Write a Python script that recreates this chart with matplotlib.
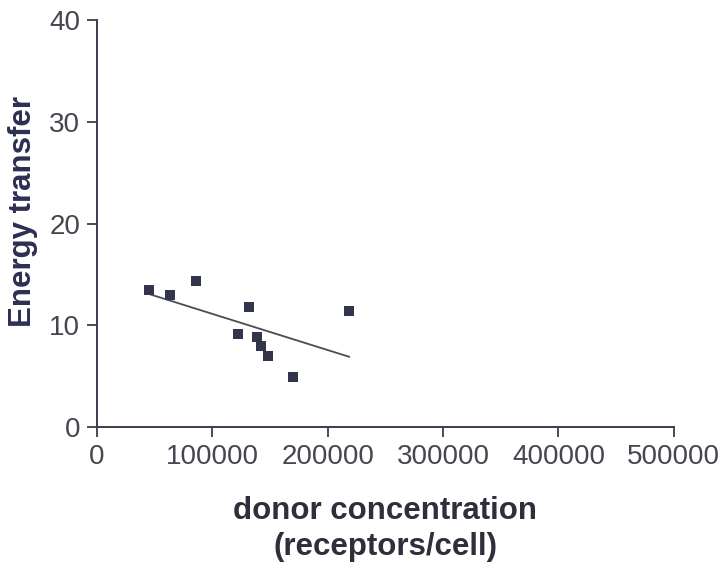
import numpy as np
import matplotlib
matplotlib.use("Agg")
import matplotlib.pyplot as plt

# Donor concentration (receptors/cell) and measured energy transfer (%)
donor_conc = [45300, 63300, 85800, 131500, 218600, 122400, 138400, 141900, 148200, 169800]
energy_transfer = [13.46, 12.97, 14.35, 11.82, 11.40, 9.11, 8.81, 7.96, 6.98, 4.91]

x_ticks = [0, 100000, 200000, 300000, 400000, 500000]
y_ticks = [0, 10, 20, 30, 40]

plt.rcParams['font.family'] = ['Liberation Sans', 'DejaVu Sans']

fig = plt.figure(figsize=(7.23, 5.72), dpi=100)
ax = fig.add_axes([0.134, 0.2535, 0.798, 0.7115])

axis_col = '#3a3c4e'
tick_col = '#45464f'
ylabel_col = '#2c2f52'
xlabel_col = '#2e2f3c'
mark_col = '#33364a'

ax.scatter(donor_conc, energy_transfer, marker='s', s=55, color=mark_col,
           linewidths=0, zorder=3)

# least-squares regression line over the data range
x = np.array(donor_conc, dtype=float)
y = np.array(energy_transfer, dtype=float)
slope, intercept = np.polyfit(x, y, 1)
xl = np.array([x.min(), x.max()])
ax.plot(xl, slope * xl + intercept, color='#4a4b55', lw=1.3, zorder=2)

ax.set_xlim(0, 500000)
ax.set_ylim(0, 40)
ax.set_xticks(x_ticks)
ax.set_xticklabels([str(t) for t in x_ticks])
ax.set_yticks(y_ticks)
ax.set_yticklabels([str(t) for t in y_ticks])

for side in ('top', 'right'):
    ax.spines[side].set_visible(False)
for side in ('left', 'bottom'):
    ax.spines[side].set_color(axis_col)
    ax.spines[side].set_linewidth(1.4)

ax.tick_params(axis='both', direction='out', length=7, width=1.3,
               color=axis_col, labelcolor=tick_col, labelsize=20, pad=5)

ax.set_xlabel('donor concentration\n(receptors/cell)', fontsize=22.5,
              fontweight='bold', color=xlabel_col, labelpad=19, linespacing=1.28)
ax.set_ylabel('Energy transfer', fontsize=22.5, fontweight='bold',
              color=ylabel_col)
ax.yaxis.set_label_coords(-0.102, 0.53)

fig.savefig('out.png', dpi=100, facecolor='white')
